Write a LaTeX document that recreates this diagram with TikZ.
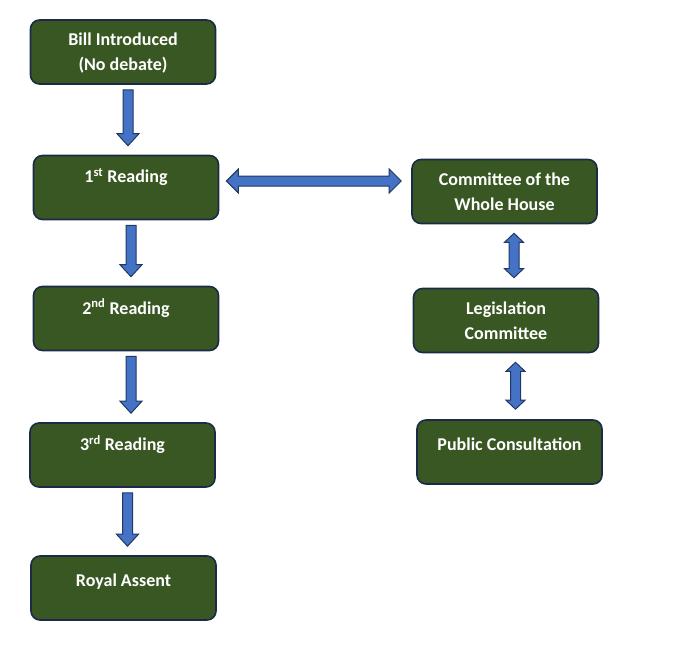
\documentclass[tikz,border=0pt]{standalone}
\usepackage{fontspec}
\setmainfont{Carlito}
\usetikzlibrary{calc}

\definecolor{stagegreen}{HTML}{385723}
\definecolor{stageedge}{HTML}{1B2A47}
\definecolor{flowblue}{HTML}{4472C4}
\definecolor{flowedge}{HTML}{1F3864}

% block arrow pointing down from #1 to #2
\newcommand{\flowdown}[2]{%
  \coordinate (#1-top) at ([xshift=5pt,yshift=-5pt]#1.south);
  \coordinate (#1-tip) at ([xshift=5pt,yshift=9pt]#1.south |- #2.north);
  \draw[blockarrow] ([xshift=-5pt]#1-top) -- ([shift={(-5pt,12pt)}]#1-tip)
    -- ++(-6pt,0) -- (#1-tip) -- ++(11pt,12pt) -- ++(-6pt,0)
    -- ([xshift=5pt]#1-top) -- cycle;}

% two-headed block arrow between #1 (above) and #2 (below)
\newcommand{\linkboth}[2]{%
  \coordinate (#1-up) at ([xshift=9.5pt,yshift=-9pt]#1.south);
  \coordinate (#1-dn) at ([xshift=9.5pt,yshift=10pt]#1.south |- #2.north);
  \draw[blockarrow] (#1-up) -- ++(9.5pt,-9pt) -- ++(-4.5pt,0)
    -- ([shift={(5pt,9pt)}]#1-dn) -- ++(4.5pt,0) -- (#1-dn)
    -- ++(-9.5pt,9pt) -- ++(4.5pt,0) -- ([shift={(-5pt,-9pt)}]#1-up)
    -- ++(-4.5pt,0) -- cycle;}

\begin{document}
\begin{tikzpicture}[
  x=1pt, y=-1pt,
  stage/.style={draw=stageedge, fill=stagegreen, line width=1.6pt,
    rounded corners=9pt, minimum width=185pt, minimum height=64pt,
    align=center, text=white, inner sep=2pt,
    font=\fontsize{18}{25}\selectfont\bfseries},
  dropped/.style={text depth=-5pt},
  lifted/.style={text depth=16pt},
  toplift/.style={text depth=24pt},
  blockarrow/.style={draw=flowedge, fill=flowblue, line width=1pt}
]
\useasboundingbox (0,0) rectangle (700,671);

% Main sequence
\node[stage, dropped] (bill) at (123,52) {Bill Introduced\\(No debate)};
\node[stage, toplift] (first) at (126,187.5) {1\textsuperscript{st} Reading};
\node[stage, toplift] (second) at (126,318.5) {2\textsuperscript{nd} Reading};
\node[stage, toplift] (third) at (122.5,455) {3\textsuperscript{rd} Reading};
\node[stage, lifted] (assent) at (123.5,588) {Royal Assent};

% Committee side
\node[stage, dropped] (whole) at (504.5,191.5) {Committee of the\\Whole House};
\node[stage, dropped] (legis) at (506,320.5) {Legislation\\Committee};
\node[stage, lifted] (consult) at (509.5,452) {Public Consultation};

\flowdown{bill}{first}
\flowdown{first}{second}
\flowdown{second}{third}
\flowdown{third}{assent}

\linkboth{whole}{legis}
\linkboth{legis}{consult}

% first reading <-> committee of the whole house
\coordinate (hl) at ([xshift=7pt,yshift=6.5pt]first.east);
\coordinate (hr) at ([xshift=-10pt]hl -| whole.west);
\draw[blockarrow] (hl) -- ++(12pt,12pt) -- ++(0,-7pt)
  -- ([xshift=-12pt,yshift=5pt]hr) -- ++(0,7pt) -- (hr)
  -- ++(-12pt,-12pt) -- ++(0,7pt) -- ([xshift=12pt,yshift=-5pt]hl)
  -- ++(0,-7pt) -- cycle;
\end{tikzpicture}
\end{document}
